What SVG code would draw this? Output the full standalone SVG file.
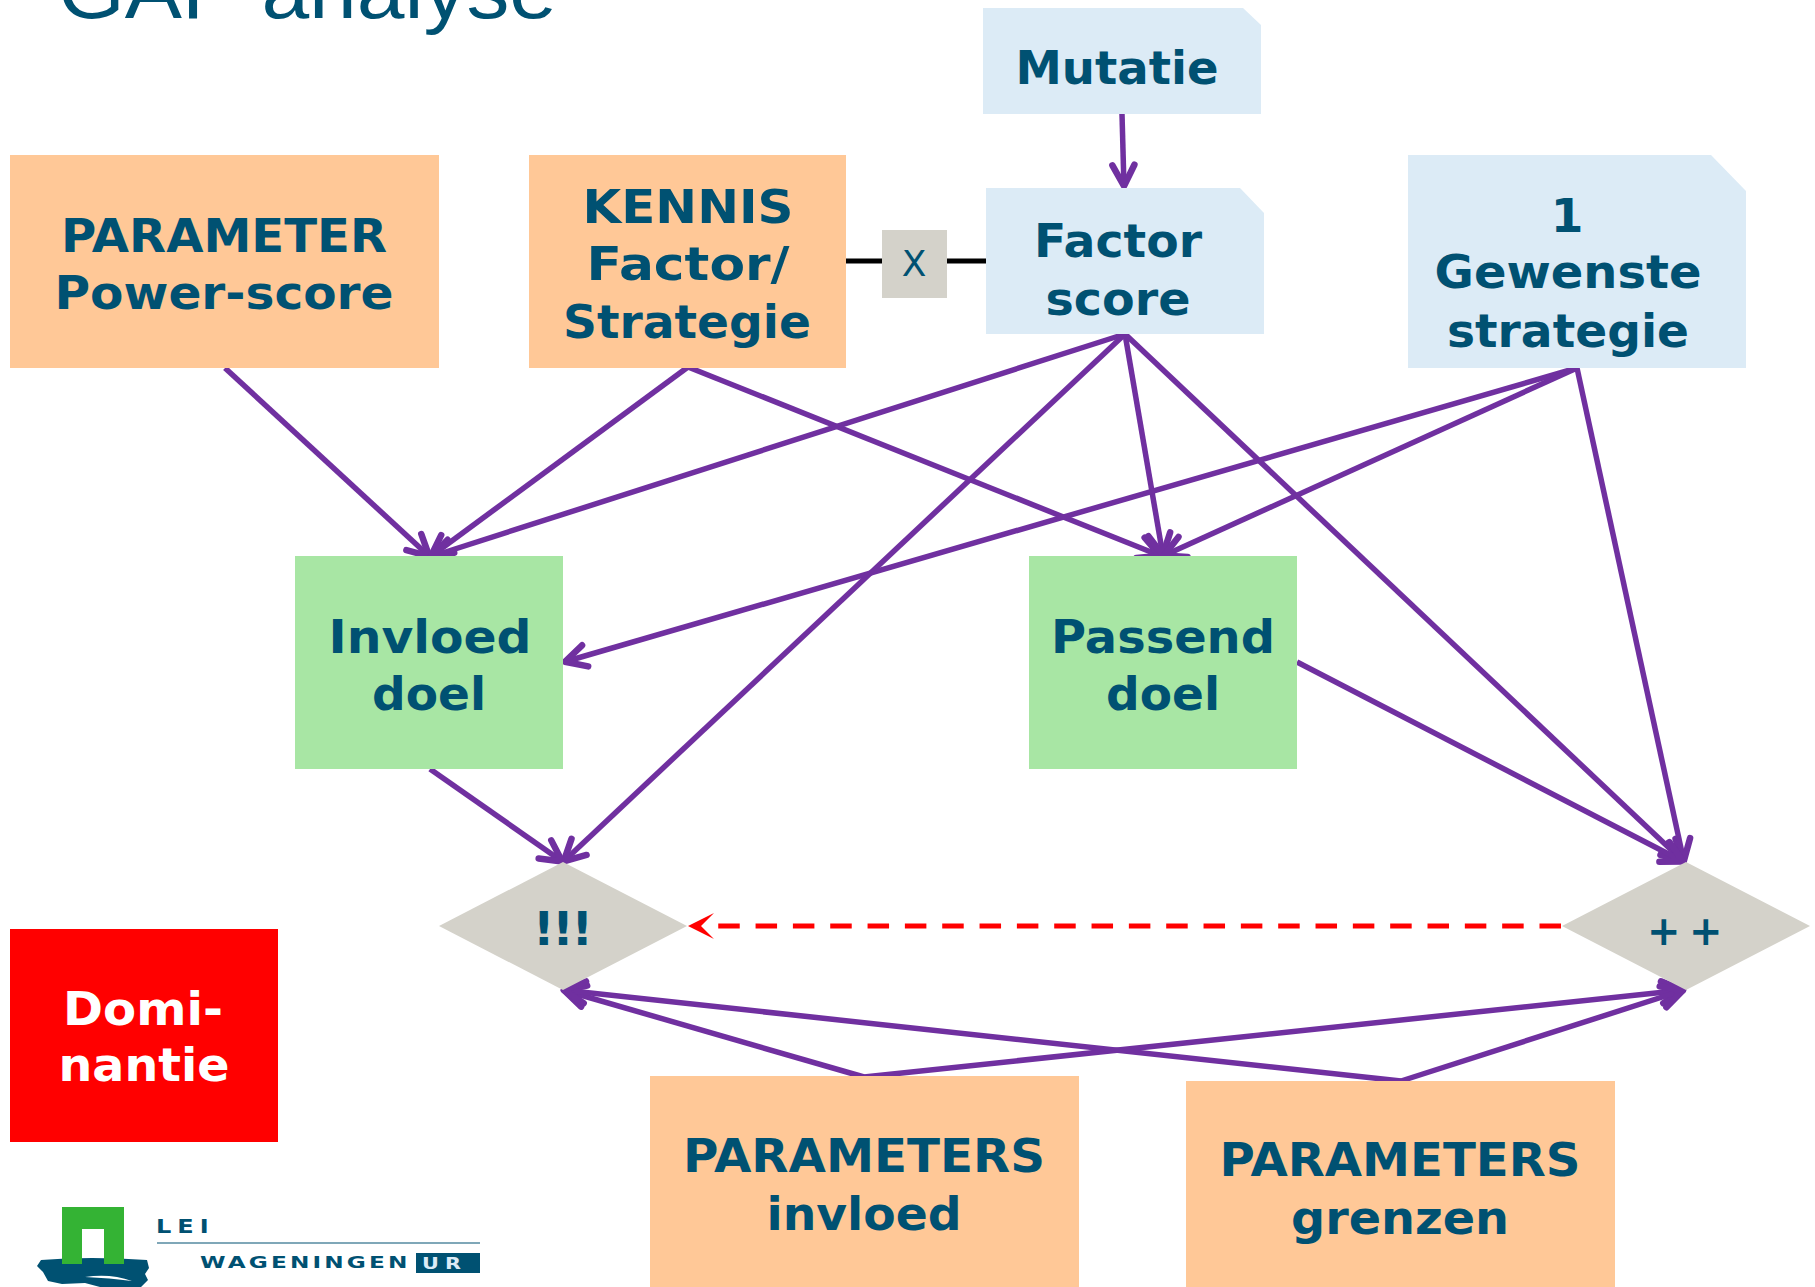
<svg xmlns="http://www.w3.org/2000/svg" width="1815" height="1287" viewBox="0 0 1815 1287">
<style>
.t{font-family:"DejaVu Sans","Liberation Sans",sans-serif;font-weight:700;font-size:47px;fill:#005172;text-anchor:middle}
.o{fill:#FFC897}.b{fill:#DCEBF6}.g{fill:#A8E6A4}.d{fill:#D4D2CA}
.c{fill:none;stroke:#7030A0;stroke-width:5.500}
.l{font-family:"DejaVu Sans",sans-serif;font-weight:700}
</style>
<defs>
<marker id="a" markerUnits="userSpaceOnUse" markerWidth="40" markerHeight="40" refX="30" refY="20" orient="auto"><path d="M8,9L29,20L8,31" fill="none" stroke="#7030A0" stroke-width="6.500" stroke-linecap="round" stroke-linejoin="round"/></marker>
<marker id="r" markerUnits="userSpaceOnUse" markerWidth="40" markerHeight="40" refX="5" refY="20" orient="auto"><path d="M35,20L9,7L22,20L9,33Z" fill="#FF0000"/></marker>
</defs>
<rect width="1815" height="1287" fill="#fff"/>
<text id="title" x="58" y="18" font-family="'Liberation Sans',sans-serif" font-size="80" fill="#005172" textLength="499" lengthAdjust="spacingAndGlyphs">GAP analyse</text>

<g id="connectors">
<path class="c" marker-end="url(#a)" d="M1122,114L1124,187"/>
<path class="c" marker-end="url(#a)" d="M225,368L430,557"/>
<path class="c" marker-end="url(#a)" d="M688,367L430,557"/>
<path class="c" marker-end="url(#a)" d="M688,367L1161,556"/>
<path class="c" marker-end="url(#a)" d="M1125,334L430,557"/>
<path class="c" marker-end="url(#a)" d="M1125,334L563,862"/>
<path class="c" marker-end="url(#a)" d="M1125,334L1163,556"/>
<path class="c" marker-end="url(#a)" d="M1125,334L1684,862"/>
<path class="c" marker-end="url(#a)" d="M1577,368L564,662"/>
<path class="c" marker-end="url(#a)" d="M1577,368L1163,556"/>
<path class="c" marker-end="url(#a)" d="M1577,368L1684,862"/>
<path class="c" marker-end="url(#a)" d="M430,769L563,862"/>
<path class="c" marker-end="url(#a)" d="M1297,662L1684,862"/>
<path class="c" marker-end="url(#a)" d="M864,1077L563,990"/>
<path class="c" marker-end="url(#a)" d="M864,1077L1684,990"/>
<path class="c" marker-end="url(#a)" d="M1401,1081L563,990"/>
<path class="c" marker-end="url(#a)" d="M1401,1081L1684,990"/>
<path d="M1561,926L718,926" fill="none" stroke="#FF0000" stroke-width="5" stroke-dasharray="21.500 15.830" marker-end="url(#r)"/>
<path d="M846,261H882M947,261H986" fill="none" stroke="#000" stroke-width="5"/>
</g>

<g id="parameter"><rect class="o" x="10" y="155" width="429" height="213"/>
<text class="t" x="224" y="252" textLength="326" lengthAdjust="spacingAndGlyphs">PARAMETER</text>
<text class="t" x="224" y="309" textLength="339" lengthAdjust="spacingAndGlyphs">Power-score</text></g>
<g id="kennis"><rect class="o" x="529" y="155" width="317" height="213"/>
<text class="t" x="688" y="223" textLength="211" lengthAdjust="spacingAndGlyphs">KENNIS</text>
<text class="t" x="688" y="280" textLength="203" lengthAdjust="spacingAndGlyphs">Factor/</text>
<text class="t" x="687" y="338" textLength="248" lengthAdjust="spacingAndGlyphs">Strategie</text></g>
<g id="x"><rect class="d" x="882" y="230" width="65" height="68"/>
<text x="914" y="276" font-family="'DejaVu Sans',sans-serif" font-size="36" fill="#005172" text-anchor="middle">X</text></g>
<g id="mutatie"><path class="b" d="M983,8H1243L1261,25V114H983Z"/>
<text class="t" x="1117" y="84" textLength="203" lengthAdjust="spacingAndGlyphs">Mutatie</text></g>
<g id="factor"><path class="b" d="M986,188H1240L1264,213V334H986Z"/>
<text class="t" x="1118" y="257" textLength="168" lengthAdjust="spacingAndGlyphs">Factor</text>
<text class="t" x="1118" y="315" textLength="145" lengthAdjust="spacingAndGlyphs">score</text></g>
<g id="gewenste"><path class="b" d="M1408,155H1711L1746,191V368H1408Z"/>
<text class="t" x="1567" y="232">1</text>
<text class="t" x="1568" y="288" textLength="267" lengthAdjust="spacingAndGlyphs">Gewenste</text>
<text class="t" x="1568" y="347" textLength="242" lengthAdjust="spacingAndGlyphs">strategie</text></g>
<g id="invloed"><rect class="g" x="295" y="556" width="268" height="213"/>
<text class="t" x="430" y="653" textLength="203" lengthAdjust="spacingAndGlyphs">Invloed</text>
<text class="t" x="429" y="710" textLength="114" lengthAdjust="spacingAndGlyphs">doel</text></g>
<g id="passend"><rect class="g" x="1029" y="556" width="268" height="213"/>
<text class="t" x="1163" y="653" textLength="224" lengthAdjust="spacingAndGlyphs">Passend</text>
<text class="t" x="1163" y="710" textLength="114" lengthAdjust="spacingAndGlyphs">doel</text></g>
<g id="d1"><path class="d" d="M439,926L563,862L687,926L563,990Z"/>
<text class="t" x="563" y="945" font-size="46" textLength="60" lengthAdjust="spacing">!!!</text></g>
<g id="d2"><path class="d" d="M1562,926L1686,862L1810,926L1686,990Z"/>
<text class="t" x="1647" y="945" style="text-anchor:start;font-size:40px;letter-spacing:8.500px">++</text></g>
<g id="dominantie"><rect x="10" y="929" width="268" height="213" fill="#FF0000"/>
<text class="t" x="143" y="1025" style="fill:#fff" textLength="160" lengthAdjust="spacingAndGlyphs">Domi-</text>
<text class="t" x="144" y="1081" style="fill:#fff" textLength="171" lengthAdjust="spacingAndGlyphs">nantie</text></g>
<g id="parinvloed"><rect class="o" x="650" y="1076" width="429" height="211"/>
<text class="t" x="864" y="1172" textLength="362" lengthAdjust="spacingAndGlyphs">PARAMETERS</text>
<text class="t" x="864" y="1230" textLength="195" lengthAdjust="spacingAndGlyphs">invloed</text></g>
<g id="pargrenzen"><rect class="o" x="1186" y="1081" width="429" height="206"/>
<text class="t" x="1400" y="1176" textLength="361" lengthAdjust="spacingAndGlyphs">PARAMETERS</text>
<text class="t" x="1400" y="1234" textLength="218" lengthAdjust="spacingAndGlyphs">grenzen</text></g>

<g id="logo">
<path d="M41,1260Q90,1256 147,1260L149,1268L145,1274L148,1280L141,1287H100L85,1283L62,1284L48,1281L43,1272L37,1266Z" fill="#005172"/>
<path d="M85,1277Q110,1273 132,1281Q110,1278 85,1277Z" fill="#fff"/>
<path d="M62,1207H124V1264H104V1229H82V1264H62Z" fill="#34B334"/>
<rect x="82" y="1229" width="22" height="29" fill="#fff"/>
<text class="l" transform="translate(156,1233) scale(1.2,1)" font-size="20" fill="#005172" textLength="44" lengthAdjust="spacing">LEI</text>
<path d="M157,1243H480" stroke="#005172" stroke-width="1.200"/>
<text class="l" transform="translate(200,1268) scale(1.45,1)" font-size="16" fill="#005172" textLength="143" lengthAdjust="spacing">WAGENINGEN</text>
<rect x="416" y="1253" width="64" height="20" fill="#005172"/>
<text class="l" transform="translate(422,1269) scale(1.3,1)" font-size="16" fill="#DCEBF6" textLength="30" lengthAdjust="spacing">UR</text>
</g>
</svg>
